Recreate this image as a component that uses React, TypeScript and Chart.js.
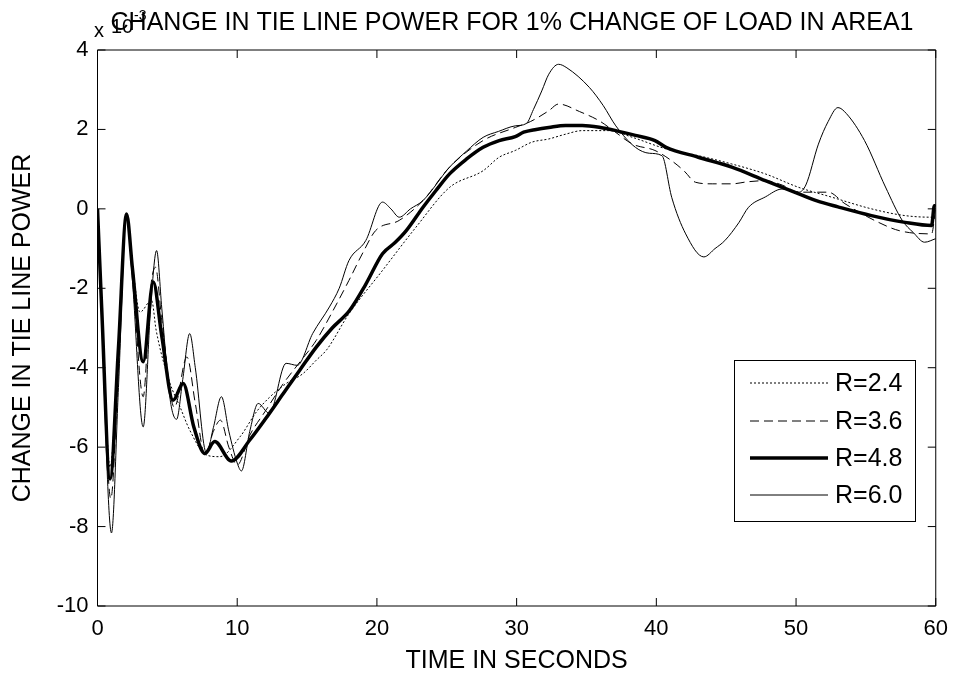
import React, { useEffect, useRef } from "react";
import { Chart, registerables } from "chart.js";

Chart.register(...registerables);

const chartTitle = "CHANGE IN TIE LINE POWER FOR 1% CHANGE OF LOAD IN AREA1";
const xTitle = "TIME IN SECONDS";
const yTitle = "CHANGE IN TIE LINE POWER";
const xTicks = [0, 10, 20, 30, 40, 50, 60];
const yTicks = [-10, -8, -6, -4, -2, 0, 2, 4];
const seriesLabels = ["R=2.4", "R=3.6", "R=4.8", "R=6.0"];

// R=2.4 (dotted)
const tR24 = [0, 0.3, 0.9, 1.5, 2.08, 2.5, 3.04, 3.87, 4.2, 5.2, 5.9, 6.6, 7.8, 8.75, 10.2, 11.4, 12.3, 13.5, 14.7, 15.66, 16.4, 18.0, 20.4, 22.8, 25.2, 27.6, 28.75, 29.9, 31.1, 32.3, 33.5, 34.7, 36.6, 38.3, 40.7, 43.0, 45.4, 47.8, 50.2, 52.5, 55.4, 57.8, 59.7, 60];
const vR24 = [0, -2.4, -6.5, -3.4, -0.2, -1.4, -2.6, -2.3, -3.06, -4.4, -4.98, -5.57, -6.2, -6.24, -5.74, -5.1, -4.75, -4.4, -4.15, -3.81, -3.55, -2.64, -1.55, -0.46, 0.54, 0.96, 1.3, 1.47, 1.68, 1.76, 1.88, 1.97, 1.97, 1.8, 1.51, 1.34, 1.13, 0.88, 0.54, 0.3, 0.0, -0.17, -0.21, 0.1];

// R=3.6 (dashed)
const tR36 = [0, 0.3, 0.95, 1.5, 2.08, 2.5, 3.27, 3.8, 4.15, 4.6, 5.5, 6.4, 7.0, 7.7, 8.3, 8.8, 9.4, 10.0, 10.9, 12.0, 13.3, 14.5, 15.66, 16.8, 18.0, 19.0, 19.9, 21.6, 23.3, 25.2, 27.6, 29.9, 31.0, 32.3, 33.0, 34.5, 35.9, 37.0, 38.3, 39.9, 41.1, 42.0, 42.8, 44.0, 45.4, 46.5, 47.8, 49.0, 50.2, 52.3, 53.5, 55.9, 57.4, 59.7, 60];
const vR36 = [0, -2.6, -7.3, -4.0, -0.13, -1.6, -4.73, -2.0, -1.47, -2.8, -5.0, -3.73, -4.9, -6.2, -5.6, -5.32, -6.0, -6.45, -5.7, -5.1, -4.4, -3.85, -3.31, -2.6, -1.8, -1.1, -0.55, -0.29, 0.21, 1.05, 1.72, 2.05, 2.2, 2.47, 2.64, 2.45, 2.22, 1.95, 1.63, 1.47, 1.21, 0.95, 0.67, 0.63, 0.63, 0.68, 0.71, 0.6, 0.42, 0.42, 0.13, -0.34, -0.55, -0.63, 0.04];

// R=4.8 (thick)
const tR48 = [0, 0.3, 0.9, 1.5, 2.08, 2.5, 3.27, 3.99, 4.6, 5.41, 6.13, 6.9, 7.68, 8.39, 9.58, 10.9, 12.0, 13.3, 14.5, 15.66, 16.8, 18.04, 19.2, 20.4, 21.3, 22.1, 23.3, 24.2, 25.2, 26.4, 27.6, 28.75, 29.9, 30.5, 31.4, 32.3, 33.5, 34.7, 36.0, 37.1, 38.5, 39.9, 40.7, 43.0, 45.4, 47.8, 50.2, 51.5, 53.0, 55.4, 57.8, 59.7, 59.9, 60];
const vR48 = [0, -2.5, -6.8, -3.5, -0.13, -1.5, -3.85, -1.84, -3.2, -4.82, -4.4, -5.5, -6.16, -5.86, -6.35, -5.82, -5.3, -4.65, -4.05, -3.48, -3.0, -2.56, -1.9, -1.13, -0.85, -0.55, 0.04, 0.45, 0.88, 1.25, 1.55, 1.72, 1.82, 1.93, 2.0, 2.05, 2.1, 2.1, 2.05, 1.97, 1.85, 1.72, 1.55, 1.3, 1.05, 0.71, 0.38, 0.2, 0.05, -0.17, -0.34, -0.42, 0.08, 0.08];

// R=6.0 (thin)
const tR60 = [0, 0.3, 1.0, 1.5, 2.08, 2.5, 3.27, 3.8, 4.23, 4.6, 5.2, 5.66, 6.1, 6.6, 7.0, 7.8, 8.3, 8.87, 9.4, 10.0, 10.3, 10.9, 11.5, 12.3, 13.5, 14.3, 15.4, 16.6, 17.3, 18.0, 19.2, 20.4, 21.0, 21.6, 22.4, 23.3, 25.2, 26.4, 27.6, 28.7, 29.9, 30.7, 31.2, 31.8, 32.3, 33.0, 33.6, 35.2, 36.2, 37.1, 38.5, 39.5, 40.4, 41.1, 42.1, 43.4, 44.2, 44.9, 45.9, 46.6, 47.8, 49.0, 50.2, 50.7, 51.6, 52.3, 53.0, 53.6, 54.9, 56.4, 57.6, 58.4, 59.2, 60];
const vR60 = [0, -2.8, -8.16, -4.5, -0.13, -1.8, -5.49, -2.5, -1.05, -2.5, -4.8, -5.3, -4.3, -3.14, -4.0, -6.15, -5.5, -4.73, -5.6, -6.4, -6.6, -5.6, -4.9, -5.15, -3.89, -3.94, -3.14, -2.47, -2.0, -1.3, -0.8, 0.17, 0.0, -0.21, 0.0, 0.21, 1.05, 1.45, 1.8, 1.95, 2.09, 2.15, 2.5, 2.97, 3.39, 3.64, 3.55, 3.06, 2.6, 2.09, 1.55, 1.4, 1.34, 0.29, -0.63, -1.21, -1.0, -0.8, -0.35, 0.04, 0.3, 0.5, 0.42, 0.6, 1.63, 2.2, 2.55, 2.4, 1.72, 0.55, -0.29, -0.6, -0.84, -0.75];

const FONT = "'Liberation Sans', Arial, Helvetica, sans-serif";

const toXY = (t: number[], v: number[]) => t.map((x, i) => ({ x, y: v[i] }));

const framePlugin = {
  id: "frameTicks",
  afterDraw(chart: any) {
    const { ctx, chartArea } = chart;
    const { left, right, top, bottom } = chartArea;
    const xs = chart.scales.x;
    const ys = chart.scales.y;
    const tl = 8;
    ctx.save();
    ctx.strokeStyle = "#000";
    ctx.lineWidth = 1;
    ctx.beginPath();
    ctx.rect(left, top, right - left, bottom - top);
    for (const t of xTicks) {
      const px = xs.getPixelForValue(t);
      ctx.moveTo(px, bottom);
      ctx.lineTo(px, bottom - tl);
      ctx.moveTo(px, top);
      ctx.lineTo(px, top + tl);
    }
    for (const t of yTicks) {
      const py = ys.getPixelForValue(t);
      ctx.moveTo(left, py);
      ctx.lineTo(left + tl, py);
      ctx.moveTo(right, py);
      ctx.lineTo(right - tl, py);
    }
    ctx.stroke();

    // exponent label (overlapped by the title, as in the original)
    ctx.fillStyle = "#000";
    ctx.textBaseline = "alphabetic";
    ctx.textAlign = "left";
    ctx.font = `20px ${FONT}`;
    ctx.fillText("x", 94, 37);
    ctx.fillText("10", 111, 33);
    ctx.font = `14px ${FONT}`;
    ctx.fillText("-3", 134, 20);
    // title
    ctx.textAlign = "center";
    ctx.font = `25px ${FONT}`;
    ctx.fillText(chartTitle, 512, 30);
    ctx.restore();
  },
};

const legendPlugin = {
  id: "boxLegend",
  afterDatasetsDraw(chart: any) {
    const { ctx } = chart;
    const x0 = 734, x1 = 915, y0 = 360, y1 = 521;
    const rows = [383, 421, 458, 495];
    ctx.save();
    ctx.fillStyle = "#fff";
    ctx.fillRect(x0, y0, x1 - x0, y1 - y0);
    ctx.strokeStyle = "#000";
    ctx.lineWidth = 1;
    ctx.strokeRect(x0 + 0.5, y0 + 0.5, x1 - x0, y1 - y0);
    chart.data.datasets.forEach((ds: any, i: number) => {
      const y = rows[i];
      ctx.beginPath();
      ctx.setLineDash(ds.borderDash || []);
      ctx.lineWidth = ds.borderWidth;
      ctx.strokeStyle = "#000";
      ctx.moveTo(750, y);
      ctx.lineTo(828, y);
      ctx.stroke();
      ctx.setLineDash([]);
      ctx.fillStyle = "#000";
      ctx.font = `25px ${FONT}`;
      ctx.textBaseline = "middle";
      ctx.textAlign = "left";
      ctx.fillText(ds.label, 835, y + 1);
    });
    ctx.restore();
  },
};

export default function App() {
  const ref = useRef<HTMLCanvasElement | null>(null);
  useEffect(() => {
    if (!ref.current) return;
    const common = { pointRadius: 0, fill: false, borderColor: "#000", cubicInterpolationMode: "monotone" };
    const chart = new Chart(ref.current, {
      type: "line",
      data: {
        datasets: [
          { ...common, label: seriesLabels[0], data: toXY(tR24, vR24), borderWidth: 1, borderDash: [2, 2] },
          { ...common, label: seriesLabels[1], data: toXY(tR36, vR36), borderWidth: 1, borderDash: [9, 5] },
          { ...common, label: seriesLabels[2], data: toXY(tR48, vR48), borderWidth: 3.5, borderDash: [] },
          { ...common, label: seriesLabels[3], data: toXY(tR60, vR60), borderWidth: 1, borderDash: [] },
        ],
      },
      options: {
        animation: false,
        responsive: false,
        maintainAspectRatio: false,
        layout: { padding: { top: 50, right: 20, left: 0, bottom: 0 } },
        plugins: { legend: { display: false }, tooltip: { enabled: false }, title: { display: false } },
        scales: {
          x: {
            type: "linear",
            min: 0,
            max: 60,
            afterFit: (s: any) => { s.height = 70; },
            afterBuildTicks: (s: any) => { s.ticks = xTicks.map((v) => ({ value: v })); },
            ticks: { color: "#000", font: { family: FONT, size: 22 }, padding: 10, maxRotation: 0 },
            grid: { display: false, drawTicks: false },
            border: { display: false },
            title: { display: true, text: xTitle, color: "#000", font: { family: FONT, size: 25 }, padding: { top: 0, bottom: 0 } },
          },
          y: {
            type: "linear",
            min: -10,
            max: 4,
            afterFit: (s: any) => { s.width = 97.5; },
            afterBuildTicks: (s: any) => { s.ticks = yTicks.map((v) => ({ value: v })); },
            ticks: { color: "#000", font: { family: FONT, size: 22 }, padding: 9 },
            grid: { display: false, drawTicks: false },
            border: { display: false },
            title: { display: true, text: yTitle, color: "#000", font: { family: FONT, size: 25 }, padding: { top: 8, bottom: 0 } },
          },
        },
      },
      plugins: [framePlugin, legendPlugin],
    } as any);
    return () => chart.destroy();
  }, []);
  return (
    <div style={{ position: "absolute", left: 0, top: 0, width: 958, height: 676, background: "#fff" }}>
      <canvas ref={ref} width={958} height={676} style={{ display: "block" }} />
    </div>
  );
}
